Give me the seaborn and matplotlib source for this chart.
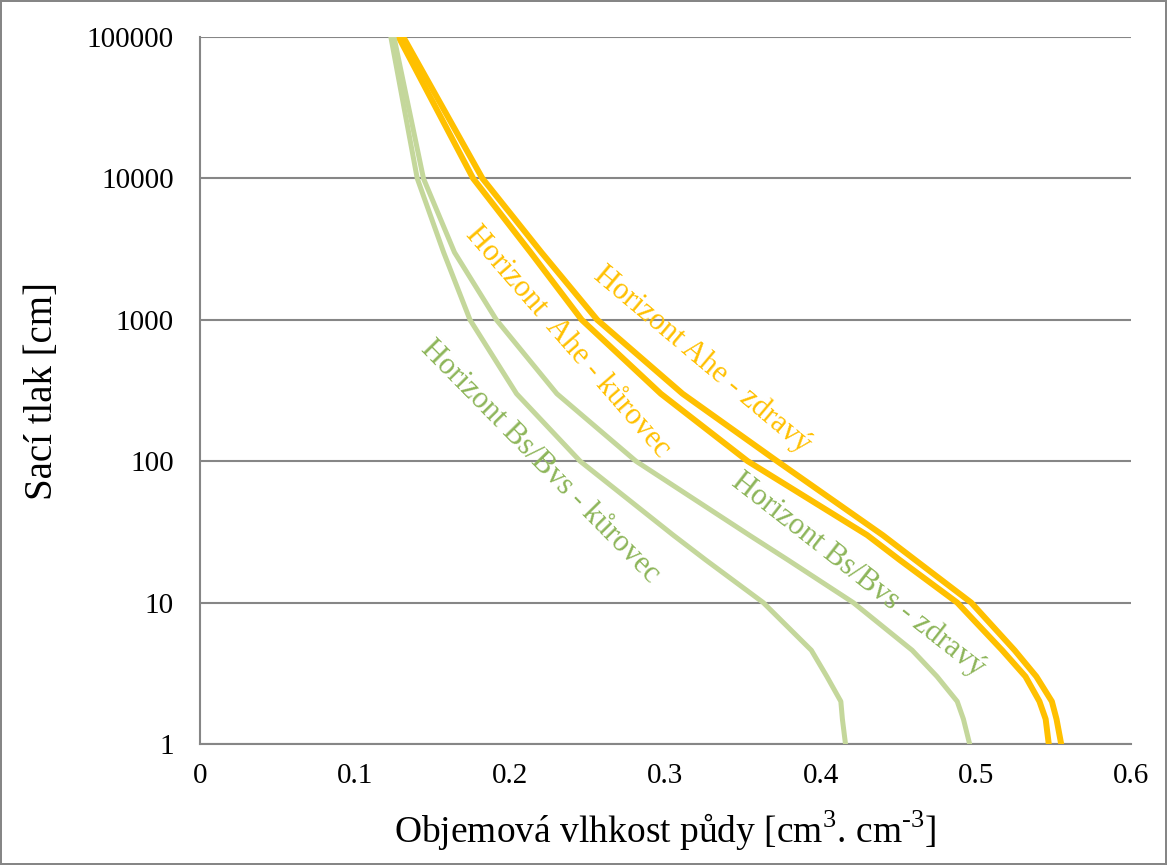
import matplotlib
matplotlib.use("Agg")
import matplotlib.pyplot as plt
import matplotlib.ticker as mticker
import pandas as pd
import seaborn as sns

sns.set_style("white")
plt.rcParams['font.family'] = ['Liberation Serif', 'DejaVu Serif']
plt.rcParams['mathtext.fontset'] = 'custom'
plt.rcParams['mathtext.rm'] = 'Liberation Serif'
plt.rcParams['text.color'] = 'black'
plt.rcParams['xtick.color'] = 'black'
plt.rcParams['ytick.color'] = 'black'
plt.rcParams['axes.labelcolor'] = 'black'

# suction pressure [cm] at which the curves were read
h_cm = [1, 1.5, 2, 3, 4.6, 10, 20, 30, 100, 300, 1000, 3000, 10000, 100000]

# volumetric soil moisture for each curve
ahe_zdravy = [0.555, 0.552, 0.549, 0.539, 0.525, 0.497, 0.461, 0.440, 0.372, 0.311, 0.256, 0.220, 0.182, 0.131]
ahe_kurovec = [0.547, 0.545, 0.541, 0.532, 0.517, 0.488, 0.451, 0.430, 0.353, 0.297, 0.246, 0.213, 0.176, 0.128]
bs_zdravy = [0.496, 0.492, 0.488, 0.475, 0.459, 0.421, 0.379, 0.354, 0.281, 0.230, 0.191, 0.164, 0.144, 0.125]
bs_kurovec = [0.416, 0.414, 0.413, 0.404, 0.394, 0.363, 0.326, 0.305, 0.245, 0.204, 0.174, 0.157, 0.140, 0.123]

orange = "#FFC000"
green_line = "#C4D79B"
green_text = "#8DB559"

curves = [
    ("Horizont Ahe - zdravý", ahe_zdravy, orange),
    ("Horizont Ahe - kůrovec", ahe_kurovec, orange),
    ("Horizont Bs/Bvs - zdravý", bs_zdravy, green_line),
    ("Horizont Bs/Bvs - kůrovec", bs_kurovec, green_line),
]

W, H = 1167, 865
fig = plt.figure(figsize=(W / 100, H / 100), dpi=100)
fig.patch.set_edgecolor("#868686")
fig.patch.set_linewidth(1.5)
ax = fig.add_axes([200 / W, 1 - 744 / H, 931 / W, 707 / H])

for name, theta, col in curves:
    df = pd.DataFrame({"theta": theta, "h": h_cm})
    lw = 4.3 if col == orange else 3.6
    sns.lineplot(data=df, x="theta", y="h", sort=False, estimator=None,
                 color=col, linewidth=lw, ax=ax, zorder=3,
                 solid_joinstyle="round")

ax.set_yscale("log")
ax.set_xlim(0, 0.6)
ax.set_ylim(1, 100000)
ax.set_xticks([0, 0.1, 0.2, 0.3, 0.4, 0.5, 0.6])
ax.xaxis.set_major_formatter(mticker.FuncFormatter(lambda v, p: "0" if v == 0 else f"{v:g}"))
ax.set_yticks([1, 10, 100, 1000, 10000, 100000])
ax.yaxis.set_major_formatter(mticker.FuncFormatter(lambda v, p: f"{int(round(v))}"))
ax.yaxis.set_minor_locator(mticker.NullLocator())
ax.grid(axis="y", color="#868686", linewidth=1.5)
ax.tick_params(axis="both", length=0, labelsize=21)
ax.tick_params(axis="y", pad=19)
ax.tick_params(axis="x", pad=14)

for side in ["top", "right"]:
    ax.spines[side].set_visible(False)
for side in ["left", "bottom"]:
    ax.spines[side].set_color("#868686")
    ax.spines[side].set_linewidth(1.5)

ax.set_xlabel(r"Objemová vlhkost půdy [cm$^{\mathrm{3}}$. cm$^{\text{-3}}$]",
              fontsize=27, labelpad=14)
ax.set_ylabel("Sací tlak [cm]", fontsize=28, labelpad=18)

# curve labels, centres given in figure pixels
labels = [
    ("Horizont Ahe - zdravý", 702, 360, -40, orange),
    ("Horizont  Ahe - kůrovec", 568, 342, -49, orange),
    ("Horizont Bs/Bvs - kůrovec", 540, 462, -45.5, green_text),
    ("Horizont Bs/Bvs - zdravý", 858, 575, -38, green_text),
]
for text, px, py, rot, col in labels:
    fig.text(px / W, 1 - py / H, text, rotation=rot, rotation_mode="anchor",
             ha="center", va="center", fontsize=22, color=col, zorder=4)

fig.savefig("out.png", dpi=100)
